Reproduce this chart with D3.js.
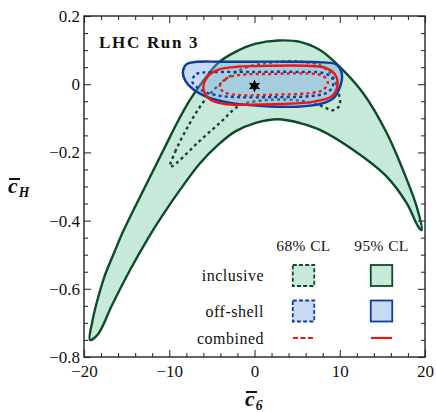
<!DOCTYPE html>
<html>
<head>
<meta charset="utf-8">
<script src="https://cdn.jsdelivr.net/npm/d3@7"></script>
<style>
  html, body { margin: 0; padding: 0; background: #fff; }
  svg { display: block; }
  text { font-family: "Liberation Serif", "Times New Roman", serif; fill: #111; }
</style>
</head>
<body>
<svg id="chart" width="436" height="412"></svg>
<script>
// ---------- data ----------
// inclusive 95% CL band: outer edge (left tip -> peak -> right tip), then inner edge back
const inclusive95 = [
  [-19.30,-0.750],[-18.94,-0.686],[-18.36,-0.627],[-17.54,-0.560],[-16.48,-0.495],
  [-15.43,-0.433],[-14.02,-0.360],[-12.26,-0.272],[-10.62,-0.190],[-8.97,-0.108],
  [-7.57,-0.046],[-6.04,0.009],[-4.28,0.062],[-2.29,0.094],[0.06,0.118],[2.76,0.128],
  [5.34,0.124],[7.68,0.100],[10.03,0.050],[12.73,-0.026],[15.51,-0.143],[17.42,-0.252],
  [19.03,-0.360],[19.61,-0.428],
  [19.21,-0.418],[17.85,-0.349],[15.51,-0.271],[11.59,-0.193],[7.68,-0.134],[5.34,-0.114],
  [2.76,-0.103],[0.06,-0.114],[-2.29,-0.139],[-4.28,-0.178],[-6.39,-0.232],[-8.74,-0.310],
  [-10.85,-0.387],[-12.61,-0.457],[-14.60,-0.545],[-16.72,-0.648],[-18.36,-0.733]
];
// inclusive 68% CL
const inclusive68 = [
  [-9.9,-0.242],[-9.3,-0.198],[-7.6,-0.115],[-5.8,-0.046],[-3.5,0.012],[-1.1,0.048],
  [1.8,0.063],[5.3,0.066],[7.7,0.055],[9.1,0.025],[9.8,-0.020],[10.0,-0.060],
  [9.3,-0.076],[7.7,-0.063],[5.3,-0.048],[1.8,-0.046],[-1.7,-0.062],[-4.0,-0.112],
  [-6.6,-0.170],[-9.1,-0.230]
];
// off-shell 95% CL
const offshell95 = [
  [-8.4,0.035],[-8.0,0.058],[-7.0,0.065],[-4.0,0.066],[0,0.066],[4,0.066],[8,0.064],
  [9.6,0.058],[10.25,0.030],[10.0,-0.010],[9.3,-0.040],[8,-0.056],[5,-0.066],
  [1,-0.064],[-3,-0.054],[-5.5,-0.038],[-7.2,-0.015],[-8.1,0.010]
];
// off-shell 68% CL
const offshell68 = [
  [-7.3,0.008],[-6.8,0.030],[-5,0.035],[0,0.036],[5,0.036],[8,0.033],[9.1,0.018],
  [9.2,-0.005],[8.5,-0.025],[6.5,-0.035],[2,-0.038],[-2,-0.038],[-4.5,-0.032],[-6.2,-0.018]
];
// combined 95% CL
const combined95 = [
  [-6.0,-0.012],[-5.5,0.022],[-4.2,0.043],[-2,0.051],[2,0.054],[6,0.054],[8.2,0.049],
  [9.4,0.030],[9.75,0.0],[9.1,-0.035],[7,-0.051],[3,-0.058],[-1,-0.060],[-3.5,-0.058],[-5.2,-0.045]
];
// combined 68% CL
const combined68 = [
  [-4.1,-0.008],[-3.4,0.015],[-1.8,0.027],[2,0.030],[6.5,0.031],[8.0,0.025],[8.6,0.005],
  [8.1,-0.016],[6.5,-0.026],[2,-0.031],[-1.8,-0.032],[-3.5,-0.024]
];
// best fit point
const bestFit = [[0, -0.005]];

const xTicks = [-20, -10, 0, 10, 20];
const xTickLabels = ["\u221220", "\u221210", "0", "10", "20"];
const yTicks = [-0.8, -0.6, -0.4, -0.2, 0, 0.2];
const yTickLabels = ["\u22120.8", "\u22120.6", "\u22120.4", "\u22120.2", "0", "0.2"];
const legendCols = ["68% CL", "95% CL"];
const legendRows = ["inclusive", "off-shell", "combined"];

// ---------- drawing ----------
const svg = d3.select("#chart");
const X0 = 84, X1 = 425, Y0 = 16, Y1 = 357;
const x = d3.scaleLinear().domain([-20, 20]).range([X0, X1]);
const y = d3.scaleLinear().domain([-0.8, 0.2]).range([Y1, Y0]);

const GREEN = "#0c4a2c", GREEN_FILL = "#c6e9d8";
const BLUE = "#0d3c9c", BLUE_FILL = "rgba(118,163,230,0.40)", BLUE_FILL_LEG = "#c9daf4";
const RED = "#ee1515";
const SERIF = "'Liberation Serif', 'Times New Roman', serif";

svg.append("defs").append("clipPath").attr("id", "clip")
  .append("rect").attr("x", X0).attr("y", Y0).attr("width", X1 - X0).attr("height", Y1 - Y0);

const line = d3.line().x(d => x(d[0])).y(d => y(d[1])).curve(d3.curveCatmullRomClosed.alpha(0.5));
const plot = svg.append("g").attr("clip-path", "url(#clip)");

plot.append("path").attr("d", line(inclusive95))
  .attr("fill", GREEN_FILL).attr("stroke", GREEN).attr("stroke-width", 2.4).attr("stroke-linejoin", "round");
plot.append("path").attr("d", line(inclusive68))
  .attr("fill", "none").attr("stroke", GREEN).attr("stroke-width", 2.4).attr("stroke-dasharray", "3,3.2");
plot.append("path").attr("d", line(offshell95))
  .attr("fill", BLUE_FILL).attr("stroke", BLUE).attr("stroke-width", 2.4);
plot.append("path").attr("d", line(offshell68))
  .attr("fill", "none").attr("stroke", BLUE).attr("stroke-width", 2.4).attr("stroke-dasharray", "3,3.2");
plot.append("path").attr("d", line(combined95))
  .attr("fill", "none").attr("stroke", RED).attr("stroke-width", 2.4);
plot.append("path").attr("d", line(combined68))
  .attr("fill", "none").attr("stroke", RED).attr("stroke-width", 2.4).attr("stroke-dasharray", "3,3.2");

// six-pointed star
function starPath(r, ri) {
  const pts = [];
  for (let i = 0; i < 12; i++) {
    const a = -Math.PI / 2 + i * Math.PI / 6;
    const rr = i % 2 === 0 ? r : ri;
    pts.push([rr * Math.cos(a), rr * Math.sin(a)]);
  }
  return "M" + pts.map(p => p.join(",")).join("L") + "Z";
}
plot.selectAll(".star").data(bestFit).enter().append("path")
  .attr("transform", d => `translate(${x(d[0])},${y(d[1])})`)
  .attr("d", starPath(6.5, 3.2)).attr("fill", "#000");

// axes
const minorX = d3.range(-20, 20.01, 2).filter(v => Math.abs(v % 10) > 1e-9);
const minorY = d3.range(-0.8, 0.2001, 0.05).filter(v => Math.abs(Math.round(v * 100) % 20) > 1e-6);

function styleAxis(g) {
  g.attr("font-family", SERIF).attr("font-size", 17);
  g.select(".domain").remove();
  g.selectAll("line").attr("stroke", "#333").attr("stroke-width", 1.1);
  g.selectAll("text").style("font-family", SERIF).style("font-size", "17px").attr("fill", "#111");
}
svg.append("g").attr("transform", `translate(0,${Y1})`)
  .call(d3.axisBottom(x).tickValues(xTicks).tickSize(-7).tickPadding(8).tickFormat((d, i) => xTickLabels[i]))
  .call(styleAxis);
svg.append("g").attr("transform", `translate(0,${Y1})`)
  .call(d3.axisBottom(x).tickValues(minorX).tickSize(-4).tickFormat(""))
  .call(styleAxis);
svg.append("g").attr("transform", `translate(0,${Y0})`)
  .call(d3.axisTop(x).tickValues(xTicks).tickSize(-7).tickFormat(""))
  .call(styleAxis);
svg.append("g").attr("transform", `translate(0,${Y0})`)
  .call(d3.axisTop(x).tickValues(minorX).tickSize(-4).tickFormat(""))
  .call(styleAxis);
svg.append("g").attr("transform", `translate(${X0},0)`)
  .call(d3.axisLeft(y).tickValues(yTicks).tickSize(-7).tickPadding(4).tickFormat((d, i) => yTickLabels[i]))
  .call(styleAxis);
svg.append("g").attr("transform", `translate(${X0},0)`)
  .call(d3.axisLeft(y).tickValues(minorY).tickSize(-4).tickFormat(""))
  .call(styleAxis);
svg.append("g").attr("transform", `translate(${X1},0)`)
  .call(d3.axisRight(y).tickValues(yTicks).tickSize(-7).tickFormat(""))
  .call(styleAxis);
svg.append("g").attr("transform", `translate(${X1},0)`)
  .call(d3.axisRight(y).tickValues(minorY).tickSize(-4).tickFormat(""))
  .call(styleAxis);

svg.append("rect").attr("x", X0).attr("y", Y0).attr("width", X1 - X0).attr("height", Y1 - Y0)
  .attr("fill", "none").attr("stroke", "#222").attr("stroke-width", 1.4);

// axis titles
function barLabel(cx, baseline, sub, size) {
  const g = svg.append("g");
  const t = g.append("text").attr("x", cx).attr("y", baseline)
    .attr("font-size", size).attr("font-style", "italic").attr("font-weight", "bold");
  t.append("tspan").text("c");
  t.append("tspan").attr("font-size", size * 0.62).attr("dy", 4).attr("dx", 1).text(sub);
  g.append("line").attr("x1", cx + 1).attr("x2", cx + 12).attr("y1", baseline - 14).attr("y2", baseline - 14)
    .attr("stroke", "#111").attr("stroke-width", 2);
}
barLabel(8, 193, "H", 22);
barLabel(245, 406, "6", 22);

// LHC Run 3
svg.append("text").attr("x", 99).attr("y", 48).attr("font-size", 17).attr("font-weight", "bold")
  .attr("letter-spacing", 1.7).text("LHC Run 3");

// legend
const colX = [303.5, 381.5];
svg.selectAll(".lh").data(legendCols).enter().append("text")
  .attr("x", (d, i) => colX[i]).attr("y", 251).attr("text-anchor", "middle")
  .attr("font-size", 15.5).attr("letter-spacing", 0.4).text(d => d);
const rowY = [275.5, 311, 338];
svg.selectAll(".lr").data(legendRows).enter().append("text")
  .attr("x", 264).attr("y", (d, i) => rowY[i] + 5.5).attr("text-anchor", "end")
  .attr("font-size", 16).attr("letter-spacing", 0.5).text(d => d);

const boxW = 21.5, boxH = 21;
[[GREEN_FILL, GREEN], [BLUE_FILL_LEG, BLUE]].forEach((c, r) => {
  colX.forEach((cx, ci) => {
    svg.append("rect").attr("x", cx - boxW / 2).attr("y", rowY[r] - boxH / 2)
      .attr("width", boxW).attr("height", boxH)
      .attr("fill", c[0]).attr("stroke", c[1]).attr("stroke-width", 1.8)
      .attr("stroke-dasharray", ci === 0 ? "4,2.2" : null);
  });
});
colX.forEach((cx, ci) => {
  svg.append("line").attr("x1", cx - 10.5).attr("x2", cx + 10.5).attr("y1", rowY[2]).attr("y2", rowY[2])
    .attr("stroke", RED).attr("stroke-width", 2.2).attr("stroke-dasharray", ci === 0 ? "5,2.5" : null);
});
</script>
</body>
</html>
